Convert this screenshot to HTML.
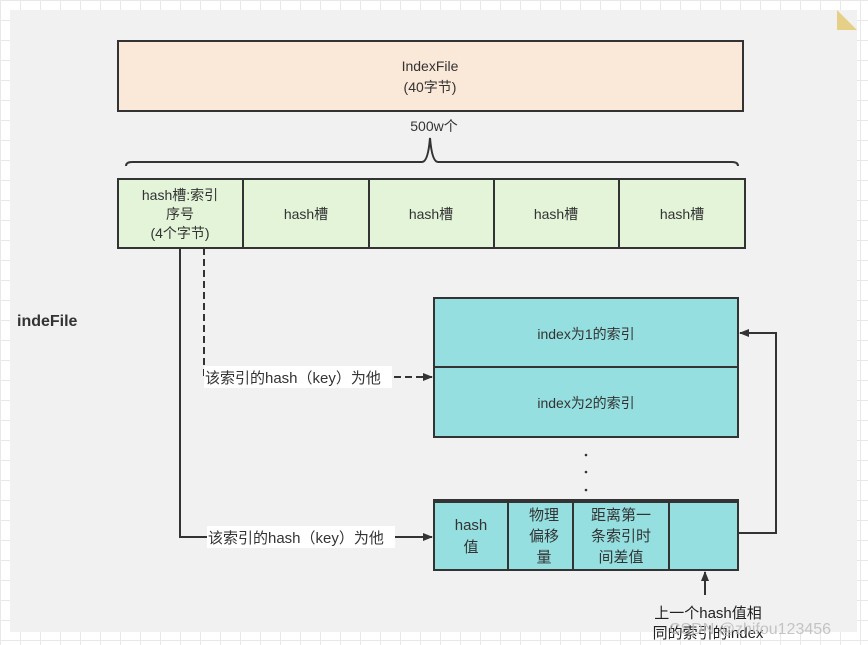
<!DOCTYPE html>
<html><head><meta charset="utf-8"><style>
html,body{margin:0;padding:0;}
body{width:868px;height:645px;overflow:hidden;background:#fff;
background-image:linear-gradient(#e8e8e8 1px,transparent 1px),linear-gradient(90deg,#e8e8e8 1px,transparent 1px);
background-size:20px 20px;font-family:"Liberation Sans","Noto Sans CJK SC",sans-serif;}
</style></head><body>
<svg width="868" height="645" xmlns="http://www.w3.org/2000/svg" style="position:absolute;left:0;top:0" font-family="Liberation Sans, Noto Sans CJK SC, sans-serif">
<defs><marker id="a" markerWidth="10" markerHeight="8" refX="9" refY="4" orient="auto" markerUnits="userSpaceOnUse"><path d="M0,0 L10,4 L0,8 z" fill="#333"/></marker></defs>
<rect x="10" y="10" width="847" height="622" fill="#f1f1f1"/>
<path d="M837,10 L857,30 L837,30 z" fill="#e6cf87"/>
<rect x="118" y="41" width="625" height="70" fill="#fae8d8" stroke="#333" stroke-width="2"/>
<text x="430" y="71" font-size="14" text-anchor="middle" fill="#333">IndexFile</text>
<text x="430" y="92" font-size="14" text-anchor="middle" fill="#333">(40字节)</text>
<text x="434" y="131" font-size="14" text-anchor="middle" fill="#333">500w个</text>
<path d="M126,166 Q126,162 132,162 L422,162 Q428,162 430,138 Q432,162 438,162 L732,162 Q738,162 738,166" fill="none" stroke="#333" stroke-width="2"/>
<g fill="#e3f4d9" stroke="#333" stroke-width="2">
<rect x="118" y="179" width="125" height="69"/><rect x="243" y="179" width="126" height="69"/>
<rect x="369" y="179" width="125" height="69"/><rect x="494" y="179" width="125" height="69"/><rect x="619" y="179" width="126" height="69"/></g>
<g font-size="14" fill="#333" text-anchor="middle">
<text x="180" y="200">hash槽:索引</text><text x="180" y="219">序号</text><text x="180" y="238">(4个字节)</text>
<text x="306" y="219">hash槽</text><text x="431" y="219">hash槽</text><text x="556" y="219">hash槽</text><text x="682" y="219">hash槽</text></g>
<text x="17" y="326" font-size="16" font-weight="bold" fill="#333">indeFile</text>
<rect x="434" y="298" width="304" height="139" fill="#95dfe0" stroke="#333" stroke-width="2"/>
<line x1="434" y1="367" x2="738" y2="367" stroke="#333" stroke-width="2"/>
<text x="586" y="339" font-size="14" text-anchor="middle" fill="#333">index为1的索引</text>
<text x="586" y="408" font-size="14" text-anchor="middle" fill="#333">index为2的索引</text>
<g fill="#333"><circle cx="586" cy="455" r="1.3"/><circle cx="586" cy="472" r="1.3"/><circle cx="586" cy="490" r="1.3"/></g>
<rect x="434" y="500" width="304" height="70" fill="#95dfe0" stroke="#333" stroke-width="2"/>
<line x1="434" y1="502" x2="738" y2="502" stroke="#333" stroke-width="2"/>
<g stroke="#333" stroke-width="2"><line x1="508" y1="500" x2="508" y2="570"/><line x1="573" y1="500" x2="573" y2="570"/><line x1="669" y1="500" x2="669" y2="570"/></g>
<g font-size="15" fill="#333" text-anchor="middle">
<text x="471" y="530">hash</text><text x="471" y="552">值</text>
<text x="544" y="520">物理</text><text x="544" y="541">偏移</text><text x="544" y="562">量</text>
<text x="621" y="520">距离第一</text><text x="621" y="541">条索引时</text><text x="621" y="562">间差值</text></g>
<path d="M180,248 L180,537 L432,537" fill="none" stroke="#333" stroke-width="2" marker-end="url(#a)"/>
<path d="M204,248 L204,377 L432,377" fill="none" stroke="#333" stroke-width="2" stroke-dasharray="7,4" marker-end="url(#a)"/>
<rect x="204" y="366" width="188" height="22" fill="#fff"/>
<text x="205" y="383" font-size="15" fill="#333">该索引的hash（key）为他</text>
<rect x="207" y="526" width="188" height="22" fill="#fff"/>
<text x="208" y="543" font-size="15" fill="#333">该索引的hash（key）为他</text>
<path d="M738,533 L776,533 L776,333 L740,333" fill="none" stroke="#333" stroke-width="2" marker-end="url(#a)"/>
<path d="M705,595 L705,572" fill="none" stroke="#333" stroke-width="2" marker-end="url(#a)"/>
<text x="708" y="618" font-size="15" text-anchor="middle" fill="#222">上一个hash值相</text>
<text x="708" y="638" font-size="15" text-anchor="middle" fill="#222">同的索引的index</text>
<text x="750" y="634" font-size="16" text-anchor="middle" fill="#bbb" opacity="0.85">CSDN @zhifou123456</text>
</svg>
</body></html>
